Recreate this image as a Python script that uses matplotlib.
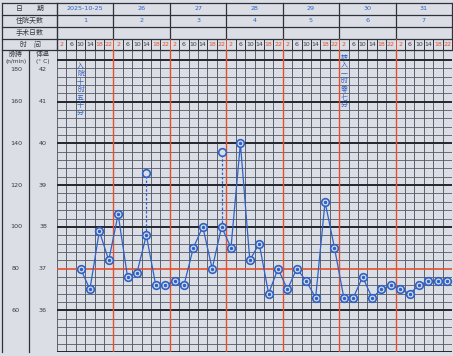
import matplotlib
matplotlib.use('Agg')
import matplotlib.pyplot as plt
from matplotlib import transforms

plt.rcParams['font.family'] = ['Noto Sans CJK SC', 'DejaVu Sans']

# -------------------------------------------------------------
# data
# -------------------------------------------------------------
dates = ['2025-10-25', '26', '27', '28', '29', '30', '31']
hospital_days = ['1', '2', '3', '4', '5', '6', '7']
hours = ['2', '6', '10', '14', '18', '22']
red_hours = ['2', '18', '22']

# slot = day * 6 + hour index
temp_slots = list(range(2, 42))
temps = [37.0, 36.5, 37.9, 37.2, 38.3, 36.8, 36.9, 37.8, 36.6, 36.6,
         36.7, 36.6, 37.5, 38.0, 37.0, 38.0, 37.5, 40.0, 37.2, 37.6,
         36.4, 37.0, 36.5, 37.0, 36.7, 36.3, 38.6, 37.5, 36.3, 36.3,
         36.8, 36.3, 36.5, 36.6, 36.5, 36.4, 36.6, 36.7, 36.7, 36.7]

# re-measured values (hollow circles, dashed link)
retest_slots = [9, 17]
retest_temps = [39.3, 39.8]

pulse_ticks = [180, 160, 140, 120, 100, 80, 60]
temp_ticks = [42, 41, 40, 39, 38, 37, 36]

notes = [(2, '入院十时五十分', 41.95), (30, '转入一时零七分', 42.15)]

# -------------------------------------------------------------
# layout (pixels)
# -------------------------------------------------------------
W, H = 453, 356
X0, X1 = 57, 452
GY0, GY1 = 50, 352
DAY = (X1 - X0) / 7
SLOT = DAY / 6
row_y = [3, 15, 27, 39, 50]

bgc = '#dcdee6'
dark = '#2e323c'
grey = '#535966'
red = '#e0502e'
blue = '#2f62c6'
txt = '#3a3a40'

fig = plt.figure(figsize=(W / 100, H / 100), dpi=100)
fig.patch.set_facecolor(bgc)

bg = fig.add_axes([0, 0, 1, 1])
bg.set_xlim(0, W)
bg.set_ylim(H, 0)
bg.axis('off')

# header rows
for y in row_y:
    bg.plot([2, X1], [y, y], color=dark, lw=0.9)
bg.plot([2, 2], [3, GY1], color=dark, lw=0.9)
bg.plot([29, 29], [GY0, GY1], color=dark, lw=0.9)
bg.plot([X0, X0], [3, GY0], color=dark, lw=1.0)
for d in range(1, 8):
    x = X0 + d * DAY
    bg.plot([x, x], [3, 39], color=dark, lw=0.9)

labels = ['日　　期', '住院天数', '手术日数', '时　间']
for i, lab in enumerate(labels):
    bg.text(30, (row_y[i] + row_y[i + 1]) / 2, lab, ha='center', va='center',
            fontsize=5, color=txt)

for d in range(7):
    cx = X0 + (d + 0.5) * DAY
    bg.text(cx, 9, dates[d], ha='center', va='center', fontsize=4.6,
            color=blue, family='DejaVu Sans')
    bg.text(cx, 21, hospital_days[d], ha='center', va='center', fontsize=4.6,
            color=blue, family='DejaVu Sans')
    for k, hr in enumerate(hours):
        sx = X0 + d * DAY + (k + 0.5) * SLOT
        bg.text(sx, 44.8, hr, ha='center', va='center', fontsize=4.5,
                color=red if hr in red_hours else txt, family='DejaVu Sans')

# time row vertical lines
for s in range(43):
    x = X0 + s * SLOT
    c = red if (s % 6 == 0 and 0 < s < 42) else dark
    bg.plot([x, x], [39, GY0], color=c, lw=0.7)

bg.text(16, 54, '脉搏', ha='center', va='center', fontsize=5, color=txt)
bg.text(16, 62, '(n/min)', ha='center', va='center', fontsize=4.2, color=txt,
        family='DejaVu Sans')
bg.text(43, 54, '体温', ha='center', va='center', fontsize=5, color=txt)
bg.text(43, 62, '(° C)', ha='center', va='center', fontsize=4.2, color=txt,
        family='DejaVu Sans')

# -------------------------------------------------------------
# grid axes (slot index vs temperature)
# -------------------------------------------------------------
gx = fig.add_axes([X0 / W, 1 - GY1 / H, (X1 - X0) / W, (GY1 - GY0) / H])
gx.set_xlim(0, 42)
gx.set_ylim(35, 42.24)
gx.axis('off')
gx.patch.set_alpha(0)

for k in range(36):
    t = 35 + 0.2 * k
    if k % 5 == 0:
        gx.axhline(t, color=red if round(t) == 37 else '#23262e',
                   lw=1.4 if round(t) != 37 else 1.2, zorder=2)
    else:
        gx.axhline(t, color=grey, lw=0.6, zorder=1)
gx.axhline(42.24, color=dark, lw=0.8)

for s in range(43):
    if s % 6 == 0 and 0 < s < 42:
        gx.axvline(s, color=red, lw=1.0, zorder=2)
    else:
        gx.axvline(s, color=grey, lw=0.65, zorder=1)

# scale labels at left
lab_tf = transforms.blended_transform_factory(bg.transData, gx.transData)
for p, t in zip(pulse_ticks, temp_ticks):
    ty = 41.78 if t == 42 else t
    gx.text(16, ty, str(p), transform=lab_tf, ha='center', va='center',
            fontsize=4.6, color=txt, family='DejaVu Sans')
    gx.text(43, ty, str(t), transform=lab_tf, ha='center', va='center',
            fontsize=4.6, color=txt, family='DejaVu Sans')

# notes written vertically in the grid
for slot, note, top in notes:
    gx.text(slot + 0.5, top, '\n'.join(note), ha='center', va='top',
            fontsize=5, color=blue, linespacing=0.98, zorder=4)

# temperature curve
xs = [s + 0.5 for s in temp_slots]
gx.plot(xs, temps, color=blue, lw=0.9, zorder=5)
gx.plot(xs, temps, 'o', ms=5.5, mfc=bgc, mec=blue, mew=1.2, zorder=6)
gx.plot(xs, temps, 'o', ms=1.5, color=blue, zorder=7)

# re-measurements
for s, t in zip(retest_slots, retest_temps):
    base = temps[temp_slots.index(s)]
    gx.plot([s + 0.5, s + 0.5], [base, t], color=blue, lw=0.9, ls=(0, (2, 1.5)),
            zorder=5)
rx = [s + 0.5 for s in retest_slots]
gx.plot(rx, retest_temps, 'o', ms=5.5, mfc=bgc, mec=blue, mew=1.2, zorder=6)

fig.savefig('out.png', dpi=100, facecolor=bgc)
